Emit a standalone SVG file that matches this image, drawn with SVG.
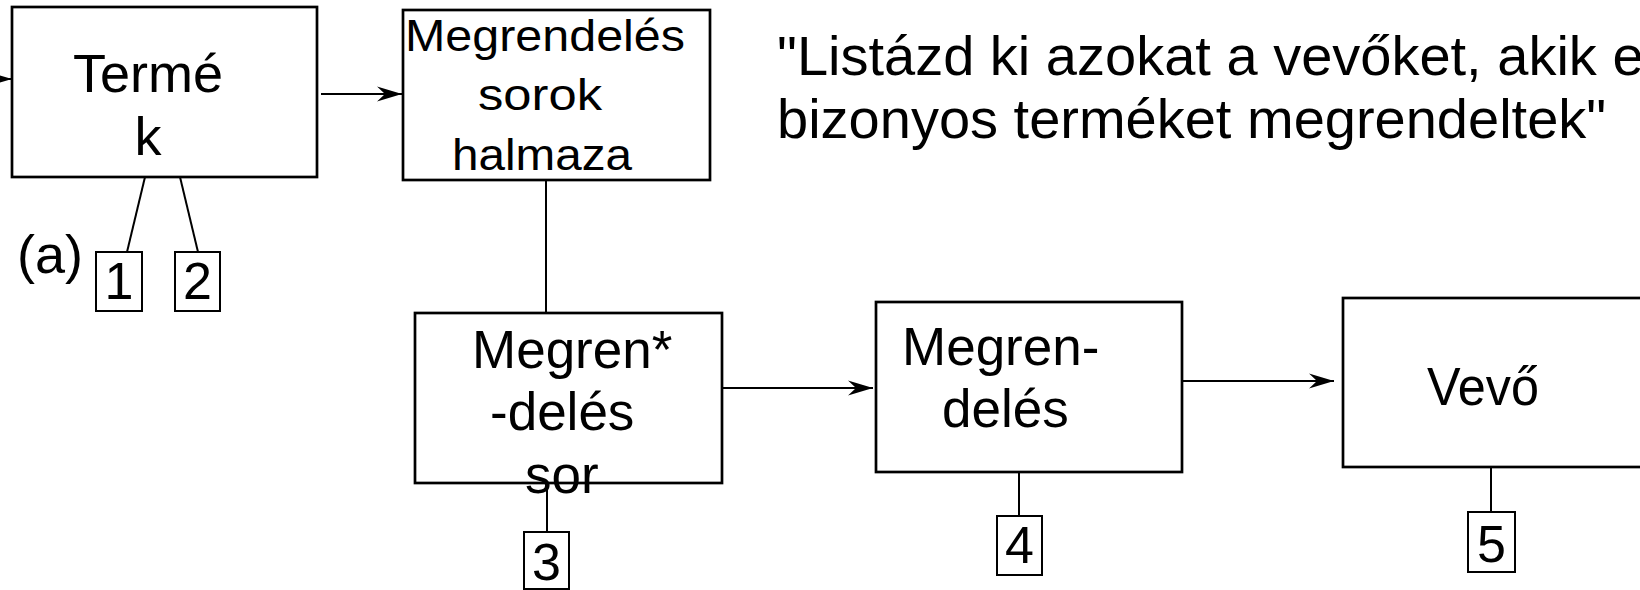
<svg xmlns="http://www.w3.org/2000/svg" width="1640" height="590" viewBox="0 0 1640 590">
<style>
text{font-family:"Liberation Sans","DejaVu Sans",sans-serif;fill:#000}
.box{fill:#fff;stroke:#000;stroke-width:2.7}
.key{fill:#fff;stroke:#000;stroke-width:2}
.conn{stroke:#000;stroke-width:2;fill:none}
.t54{font-size:54px}
.t53{font-size:53px}
.t44{font-size:44px}
.t52{font-size:52px}
.q{font-size:56px}
</style>
<defs>
<marker id="arr" markerUnits="userSpaceOnUse" markerWidth="30" markerHeight="20" refX="25" refY="8" orient="auto">
<path d="M25,8 L0,0.5 L8,8 L0,15.5 Z" fill="#000"/>
</marker>
</defs>
<rect width="1640" height="590" fill="#fff"/>

<g id="connectors">
<line class="conn" x1="-20" y1="79" x2="12" y2="79" marker-end="url(#arr)"/>
<line class="conn" x1="321" y1="94" x2="402" y2="94" marker-end="url(#arr)"/>
<line class="conn" x1="546" y1="180" x2="546" y2="313"/>
<line class="conn" x1="722" y1="388" x2="873" y2="388" marker-end="url(#arr)"/>
<line class="conn" x1="1182" y1="381" x2="1334" y2="381" marker-end="url(#arr)"/>
<line class="conn" x1="145" y1="177" x2="127" y2="252"/>
<line class="conn" x1="180" y1="177" x2="198" y2="252"/>
<line class="conn" x1="547" y1="483" x2="547" y2="532"/>
<line class="conn" x1="1019" y1="472" x2="1019" y2="516"/>
<line class="conn" x1="1491" y1="467" x2="1491" y2="512"/>
</g>

<g id="termek">
<rect class="box" x="12" y="7" width="305" height="170"/>
<text class="t54" x="148" y="92" text-anchor="middle">Termé</text>
<text class="t54" x="148" y="155" text-anchor="middle">k</text>
</g>

<g id="megrendeles-sorok-halmaza">
<rect class="box" x="403" y="10" width="307" height="170"/>
<text class="t44" x="405" y="51" textLength="280" lengthAdjust="spacingAndGlyphs">Megrendelés</text>
<text class="t44" x="478" y="110" textLength="124" lengthAdjust="spacingAndGlyphs">sorok</text>
<text class="t44" x="452" y="170" textLength="180" lengthAdjust="spacingAndGlyphs">halmaza</text>
</g>

<g id="megrendeles-sor">
<rect class="box" x="415" y="313" width="307" height="170"/>
<text class="t53" x="472" y="368">Megren*</text>
<text class="t53" x="490" y="430">-delés</text>
<text class="t53" x="525" y="493">sor</text>
</g>

<g id="megrendeles">
<rect class="box" x="876" y="302" width="306" height="170"/>
<text class="t53" x="902" y="365">Megren-</text>
<text class="t53" x="942" y="427">delés</text>
</g>

<g id="vevo">
<rect class="box" x="1343" y="298" width="320" height="169"/>
<text class="t53" x="1427" y="405" textLength="112" lengthAdjust="spacingAndGlyphs">Vevő</text>
</g>

<g id="key1">
<rect class="key" x="96" y="252" width="46" height="59"/>
<text class="t52" x="119" y="299" text-anchor="middle">1</text>
</g>
<g id="key2">
<rect class="key" x="175" y="252" width="45" height="59"/>
<text class="t52" x="197.5" y="299" text-anchor="middle">2</text>
</g>
<g id="key3">
<rect class="key" x="524" y="532" width="45" height="57"/>
<text class="t52" x="546.5" y="580" text-anchor="middle">3</text>
</g>
<g id="key4">
<rect class="key" x="997" y="516" width="45" height="59"/>
<text class="t52" x="1019.5" y="563" text-anchor="middle">4</text>
</g>
<g id="key5">
<rect class="key" x="1468" y="512" width="47" height="60"/>
<text class="t52" x="1491.5" y="562" text-anchor="middle">5</text>
</g>

<g id="label-a">
<text class="t54" x="17" y="273">(a)</text>
</g>

<g id="quote">
<text class="q" x="777" y="75">"Listázd ki azokat a vevőket, akik e</text>
<text class="q" x="777" y="138">bizonyos terméket megrendeltek"</text>
</g>
</svg>
